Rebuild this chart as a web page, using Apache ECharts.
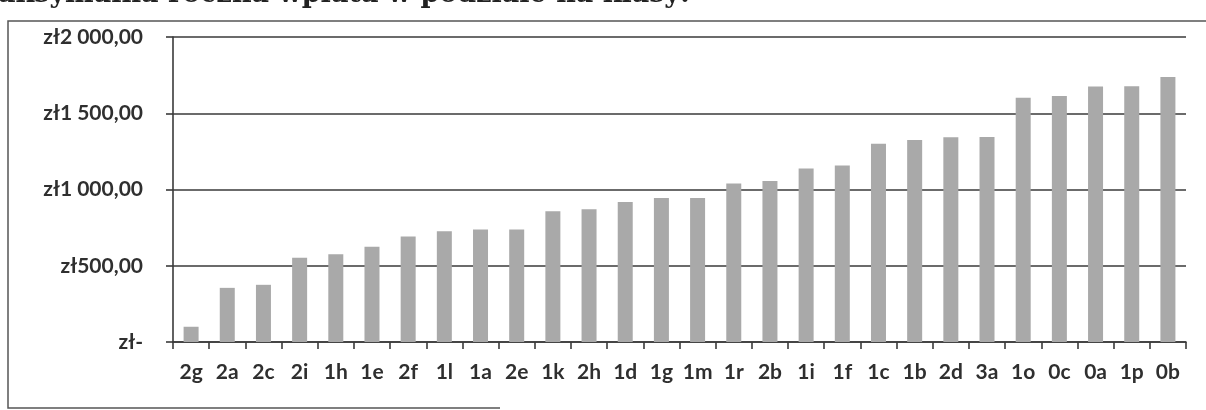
<!DOCTYPE html>
<html>
<head>
<meta charset="utf-8">
<script src="https://cdn.jsdelivr.net/npm/echarts@6/dist/echarts.min.js"></script>
<style>
html,body{margin:0;padding:0;background:#fff;}
#c{width:1206px;height:410px;}
</style>
</head>
<body>
<div id="c"></div>
<script>
const titleText = 'Maksymalna roczna wpłata w podziale na klasy:';
const categories = ['2g','2a','2c','2i','1h','1e','2f','1l','1a','2e','1k','2h','1d','1g','1m','1r','2b','1i','1f','1c','1b','2d','3a','1o','0c','0a','1p','0b'];
const values = [100,355,375,553,575,625,692,726,738,738,858,870,918,945,945,1040,1055,1138,1158,1300,1325,1343,1345,1602,1613,1675,1677,1738];
const yTickValues = [0,500,1000,1500,2000];
const yTickLabels = ['zł-','zł500,00','zł1 000,00','zł1 500,00','zł2 000,00'];

const chart = echarts.init(document.getElementById('c'), null, {renderer:'canvas'});
chart.setOption({
  animation:false,
  backgroundColor:'#ffffff',
  grid:{left:173,right:20,top:37,bottom:68,containLabel:false},
  xAxis:{
    type:'category',
    data:categories,
    boundaryGap:true,
    axisLine:{show:true,lineStyle:{color:'#3a3a3a',width:1.6}},
    axisTick:{show:true,length:7,alignWithLabel:false,lineStyle:{color:'#3a3a3a',width:1.6}},
    axisLabel:{interval:0,margin:20,fontFamily:'Lato',fontWeight:'bold',fontSize:21,color:'#2f2f2f'}
  },
  yAxis:{
    type:'value',
    min:0,max:2000,interval:500,
    axisLine:{show:true,lineStyle:{color:'#3a3a3a',width:1.6}},
    axisTick:{show:true,length:7,lineStyle:{color:'#3a3a3a',width:1.6}},
    splitLine:{show:true,lineStyle:{color:'#3a3a3a',width:1.6}},
    axisLabel:{margin:30,fontFamily:'Lato',fontWeight:'bold',fontSize:21,color:'#2f2f2f',
      formatter:function(v){const i=yTickValues.indexOf(v);return i>=0?yTickLabels[i]:'';}}
  },
  series:[{
    type:'bar',
    data:values,
    barWidth:15,
    itemStyle:{color:'#a9a9a9'}
  }],
  graphic:[
    {type:'polyline',shape:{points:[[1206,21],[8,21],[8,408],[500,408]]},style:{stroke:'#555',lineWidth:1.5,fill:null},silent:true},
    {type:'text',x:690,y:8,style:{text:titleText,font:'bold 27px "DejaVu Serif"',fill:'#222',align:'right',verticalAlign:'bottom'},silent:true}
  ]
});
</script>
</body>
</html>
